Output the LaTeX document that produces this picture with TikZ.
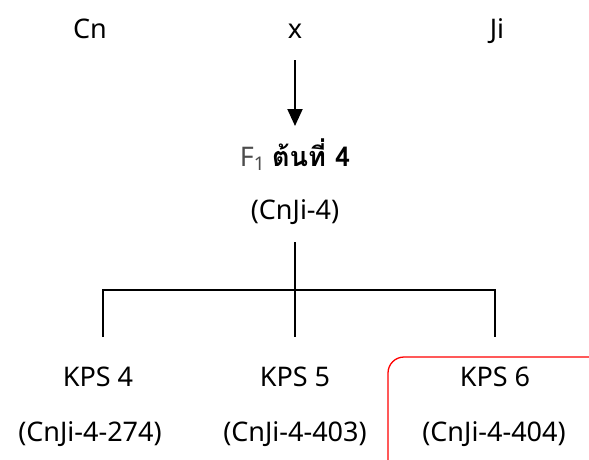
\documentclass[tikz,border=0pt]{standalone}
\usepackage{fontspec}
\usetikzlibrary{arrows.meta}
\setmainfont{Noto Sans}
\newfontfamily\thaifont[Script=Thai]{Loma}
\begin{document}
\begin{tikzpicture}[x=1pt,y=-1pt,
  lbl/.style={font=\fontsize{27}{32}\selectfont, inner sep=0pt, anchor=base},
  ln/.style={line width=2pt, black}]
\useasboundingbox (0,0) rectangle (589,459);
\begin{scope}
\clip (0,0) rectangle (589,459);
\draw[red, line width=1.3pt, rounded corners=16pt] (388,357) rectangle (620,490);
\end{scope}
\node[lbl] (cn) at (90,38) {Cn};
\node[lbl] (x) at (295,38) {x};
\node[lbl] (ji) at (497,38) {Ji};
\coordinate (ar1) at (295,60);
\coordinate (ar2) at (295,126);
\draw[ln,-{Triangle[length=17pt,width=15pt]}] (ar1) -- (ar2);
\node[lbl] (f1) at (295,166) {\textcolor{black!70}{F\textsubscript{1}} {\thaifont\bfseries ต้นที่ 4}};
\node[lbl] (cj) at (295,219) {(CnJi-4)};
\coordinate (t) at (295,242);
\coordinate (m) at (295,290);
\coordinate (l) at (103,290);
\coordinate (r) at (495,290);
\coordinate (lb) at (103,337);
\coordinate (mb) at (295,337);
\coordinate (rb) at (495,337);
\draw[ln] (t) -- (m);
\draw[ln] (lb) -- (l) -- (r) -- (rb);
\draw[ln] (m) -- (mb);
\node[lbl] (k4) at (98,386) {KPS 4};
\node[lbl] (c4) at (90,441) {(CnJi-4-274)};
\node[lbl] (k5) at (295,386) {KPS 5};
\node[lbl] (c5) at (295,441) {(CnJi-4-403)};
\node[lbl] (k6) at (495,386) {KPS 6};
\node[lbl] (c6) at (494,441) {(CnJi-4-404)};
\end{tikzpicture}
\end{document}
